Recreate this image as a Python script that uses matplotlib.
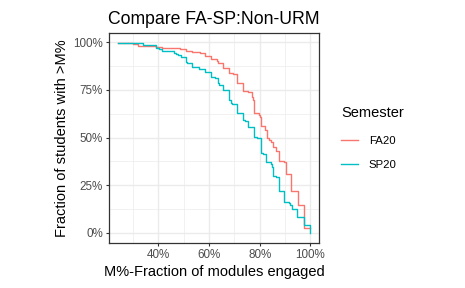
import matplotlib
matplotlib.use("Agg")
import matplotlib.pyplot as plt
from matplotlib.lines import Line2D

plt.rcParams['font.family'] = ['Liberation Sans', 'DejaVu Sans']

title = "Compare FA-SP:Non-URM"
xlabel = "M%-Fraction of modules engaged"
ylabel = "Fraction of students with >M%"
legend_title = "Semester"
series_names = ["FA20", "SP20"]
colors = ["#F8766D", "#00BFC4"]

fa20_x = [0.242, 0.301, 0.318, 0.391, 0.413, 0.486, 0.509, 0.532, 0.565, 0.586,
          0.608, 0.630, 0.637, 0.657, 0.679, 0.696, 0.709, 0.733, 0.755, 0.768,
          0.772, 0.779, 0.796, 0.803, 0.805, 0.820, 0.828, 0.836, 0.845, 0.854,
          0.863, 0.878, 0.896, 0.903, 0.924, 0.951, 0.976, 1.000]
fa20_y = [0.995, 0.991, 0.979, 0.975, 0.972, 0.963, 0.956, 0.949, 0.946, 0.930,
          0.914, 0.904, 0.890, 0.865, 0.837, 0.832, 0.785, 0.747, 0.741, 0.712,
          0.698, 0.628, 0.621, 0.607, 0.561, 0.540, 0.497, 0.488, 0.479, 0.449,
          0.432, 0.376, 0.371, 0.309, 0.219, 0.147, 0.024, 0.024]

sp20_x = [0.242, 0.295, 0.341, 0.391, 0.404, 0.413, 0.462, 0.470, 0.478, 0.488,
          0.509, 0.515, 0.534, 0.562, 0.586, 0.608, 0.625, 0.634, 0.641, 0.657,
          0.678, 0.680, 0.686, 0.692, 0.709, 0.733, 0.741, 0.755, 0.779, 0.788,
          0.804, 0.815, 0.825, 0.843, 0.849, 0.854, 0.863, 0.878, 0.897, 0.917,
          0.921, 0.926, 0.949, 0.976, 1.000]
sp20_y = [0.998, 0.995, 0.986, 0.969, 0.963, 0.956, 0.946, 0.937, 0.932, 0.921,
          0.895, 0.890, 0.869, 0.858, 0.844, 0.816, 0.811, 0.785, 0.778, 0.748,
          0.741, 0.698, 0.684, 0.677, 0.628, 0.593, 0.589, 0.554, 0.505, 0.497,
          0.421, 0.414, 0.374, 0.362, 0.344, 0.299, 0.292, 0.222, 0.164, 0.156,
          0.149, 0.124, 0.082, 0.042, 0.002]

xticks = [0.4, 0.6, 0.8, 1.0]
xtick_labels = ["40%", "60%", "80%", "100%"]
yticks = [0.0, 0.25, 0.5, 0.75, 1.0]
ytick_labels = ["0%", "25%", "50%", "75%", "100%"]

fig = plt.figure(figsize=(4.65, 2.88), dpi=100)
ax = fig.add_axes([0.235, 0.1573, 0.4517, 0.7292])

ax.set_facecolor("white")
ax.set_xlim(0.2065, 1.0354)
ax.set_ylim(-0.0509, 1.0503)

ax.set_xticks(xticks)
ax.set_xticklabels(xtick_labels)
ax.set_yticks(yticks)
ax.set_yticklabels(ytick_labels)
ax.set_xticks([0.3, 0.5, 0.7, 0.9], minor=True)
ax.set_yticks([0.125, 0.375, 0.625, 0.875], minor=True)
ax.grid(which="major", color="#EBEBEB", linewidth=1.0)
ax.grid(which="minor", color="#EBEBEB", linewidth=0.5)
ax.set_axisbelow(True)
ax.tick_params(which="minor", length=0)
ax.tick_params(which="major", length=2.5, width=0.8, color="#333333",
               labelsize=8.4, labelcolor="#4D4D4D", pad=2)
for s in ax.spines.values():
    s.set_color("#333333")
    s.set_linewidth(0.9)

ax.step(fa20_x, fa20_y, where="post", color=colors[0], linewidth=1.0)
ax.step(sp20_x, sp20_y, where="post", color=colors[1], linewidth=1.0)

ax.set_title(title, fontsize=12.7, pad=6)
ax.set_xlabel(xlabel, fontsize=10.5, labelpad=3)
ax.set_ylabel(ylabel, fontsize=10.5, labelpad=3)

handles = [Line2D([0], [0], color=c, linewidth=1.0) for c in colors]
leg = fig.legend(handles, series_names, title=legend_title,
                 loc="center left", bbox_to_anchor=(0.712, 0.522),
                 frameon=False, fontsize=8.2, title_fontsize=10.5,
                 handlelength=1.5, handletextpad=0.9, labelspacing=1.15)
leg._legend_box.align = "left"
leg._legend_box.sep = 12

fig.savefig("out.png", dpi=100)
